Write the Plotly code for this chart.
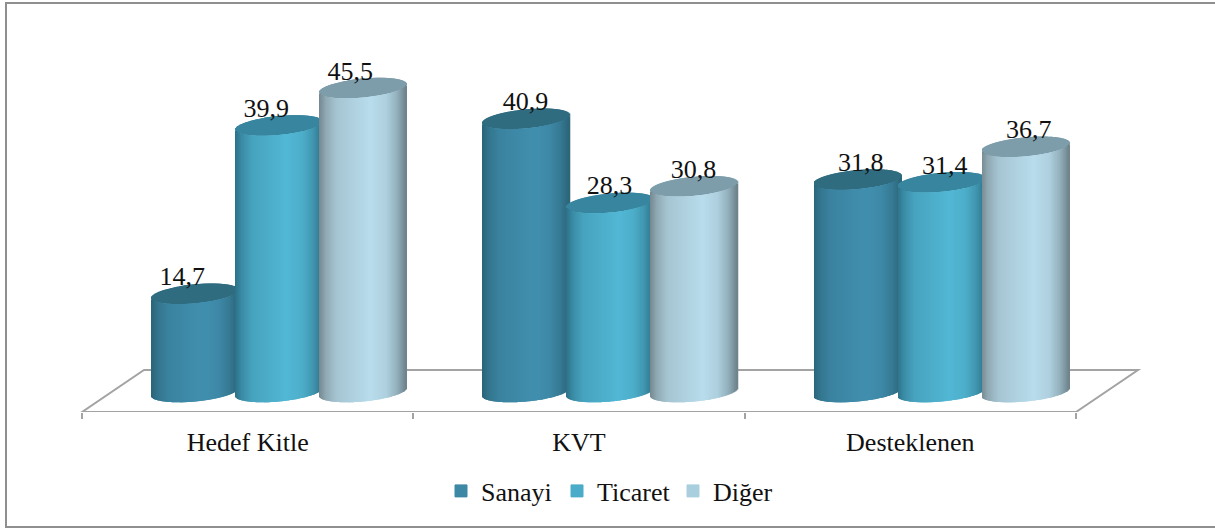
import numpy as np
import plotly.graph_objects as go

# ---- chart data ----
categories = ["Hedef Kitle", "KVT", "Desteklenen"]
sanayi = [14.7, 40.9, 31.8]
ticaret = [39.9, 28.3, 31.4]
diger = [45.5, 30.8, 36.7]
series_names = ["Sanayi", "Ticaret", "Diğer"]

# ---- styles ----
W, H = 1215, 530
FONT = "Liberation Serif"
FS = 26
TXT = "#111111"
LINE = "#a3a3a3"
body_edge_l = ["#2a6478", "#2c7088", "#75888f"]
body_edge_r = ["#2c6578", "#2f7389", "#6d828b"]
body_peak = ["#418faf", "#52b8d5", "#b9dded"]
cap_colors = ["#2f6c80", "#38859f", "#7d9dab"]
legend_colors = ["#3d88a5", "#4aacc8", "#a9cfdf"]
label_shift_px = [-13, -1, 3]

PX_X = 331.33          # pixels per category
LEFT = 82              # pixel of category edge 0
FLOOR_PY = 412         # pixel row of front floor edge
BASE_PY = 392          # pixel row of the value 0
PX_Y = 6.68            # pixels per value unit
CYL_W = 87 / PX_X
CYL_STEP = 84 / PX_X
GROUP_SHIFT = 0.095
CAP_B = 9.5 / PX_Y
CAP_TILT = 4 / PX_Y
LABEL_UP = 15 / PX_Y
DEPTH_DX, DEPTH_DY = 62, 42


def hex_rgb(c):
    return np.array([int(c[i:i + 2], 16) for i in (1, 3, 5)], float)


def mix(a, b, f):
    v = hex_rgb(a) * (1 - f) + hex_rgb(b) * f
    return "rgb(%d,%d,%d)" % tuple(v)


stops_p = [0.0, 0.08, 0.20, 0.60, 0.78, 0.90, 1.0]
stops_f = [0.0, 0.40, 0.72, 1.0, 0.85, 0.50, 0.0]


def cylinder(xc, v, s):
    n = 88
    u = (np.arange(n) + 0.5) / n
    t = 2 * u - 1
    xs = xc + t * CYL_W / 2
    arc = np.sqrt(1 - t ** 2) * CAP_B
    tilt = t * CAP_TILT
    # top disc strips first, body strips over them
    cap_base = v + tilt - arc
    cap_top = v + tilt + arc
    body_base = tilt - arc
    body_top = v + tilt - arc
    f = np.interp(u, stops_p, stops_f)
    body_col = [mix(body_edge_l[s] if p < 0.5 else body_edge_r[s], body_peak[s], g) for p, g in zip(u, f)]
    sw = 1.6 / PX_X
    return go.Bar(
        x=np.r_[xs, xs], y=np.r_[cap_top - cap_base, body_top - body_base],
        base=np.r_[cap_base, body_base], width=sw,
        marker=dict(color=[cap_colors[s]] * n + body_col, line=dict(width=0)),
        showlegend=False, hoverinfo="skip",
    )


fig = go.Figure()
all_series = [sanayi, ticaret, diger]
label_x, label_y, label_t = [], [], []
for g in range(len(categories)):
    for s, vals in enumerate(all_series):
        xc = g + 0.5 + GROUP_SHIFT + (s - 1) * CYL_STEP
        fig.add_trace(cylinder(xc, vals[g], s))
        label_x.append(xc + label_shift_px[g] / PX_X)
        label_y.append(vals[g] + LABEL_UP)
        label_t.append(f"{vals[g]:.1f}".replace(".", ","))

for s, nm in enumerate(series_names):
    fig.add_trace(go.Bar(x=[None], y=[None], name=nm, marker=dict(color=legend_colors[s], line=dict(width=1, color=legend_colors[s]))))

fig.add_trace(go.Scatter(x=label_x, y=label_y, text=label_t, mode="text", textposition="middle center",
                         textfont=dict(family=FONT, size=FS, color=TXT), showlegend=False, hoverinfo="skip"))

fx = lambda p: (p - LEFT) / PX_X
fy = lambda p: (BASE_PY - p) / PX_Y
x_front_l, x_front_r = 0, len(categories)
depth_x = DEPTH_DX / PX_X
floor_top = fy(FLOOR_PY - DEPTH_DY)
floor_bot = fy(FLOOR_PY)
shapes = [dict(type="path", layer="below", xref="x", yref="y",
               path=f"M{x_front_l},{floor_bot} L{x_front_l + depth_x},{floor_top} L{x_front_r + depth_x},{floor_top} L{x_front_r},{floor_bot} Z",
               line=dict(color=LINE, width=2)),
          dict(type="path", layer="below", xref="paper", yref="paper",
               path=f"M1.0,{(FLOOR_PY - 3) / FLOOR_PY} L{6 / W},{(FLOOR_PY - 3) / FLOOR_PY} L{6 / W},{(FLOOR_PY - 527) / FLOOR_PY} L1.0,{(FLOOR_PY - 527) / FLOOR_PY}",
               line=dict(color="#8f8f8f", width=2))]

fig.update_layout(
    width=W, height=H, margin=dict(l=0, r=0, t=0, b=H - FLOOR_PY),
    paper_bgcolor="white", plot_bgcolor="white", barmode="overlay", shapes=shapes,
    font=dict(family=FONT, size=FS, color=TXT),
    xaxis=dict(range=[fx(0), fx(W)], showgrid=False, zeroline=False, showline=False,
               tickmode="array", tickvals=[i + 0.5 for i in range(len(categories))], ticktext=categories,
               ticks="outside", ticklen=7, tickcolor="rgba(0,0,0,0)", tickfont=dict(family=FONT, size=FS, color=TXT),
               minor=dict(tickmode="array", tickvals=list(range(len(categories) + 1)), ticks="outside", ticklen=6, tickwidth=2, tickcolor=LINE, showgrid=False)),
    yaxis=dict(range=[fy(FLOOR_PY), fy(0)], visible=False),
    legend=dict(orientation="h", x=441 / W, xanchor="left", y=-(491 - FLOOR_PY) / FLOOR_PY, yanchor="middle",
                font=dict(family=FONT, size=FS, color=TXT), entrywidth=71, entrywidthmode="pixels",
                itemclick=False, itemdoubleclick=False, bgcolor="rgba(0,0,0,0)"),
)
fig.write_html("out.html", config={"displayModeBar": False},
               post_script="document.body.style.margin='0';document.documentElement.style.overflow='hidden';")
